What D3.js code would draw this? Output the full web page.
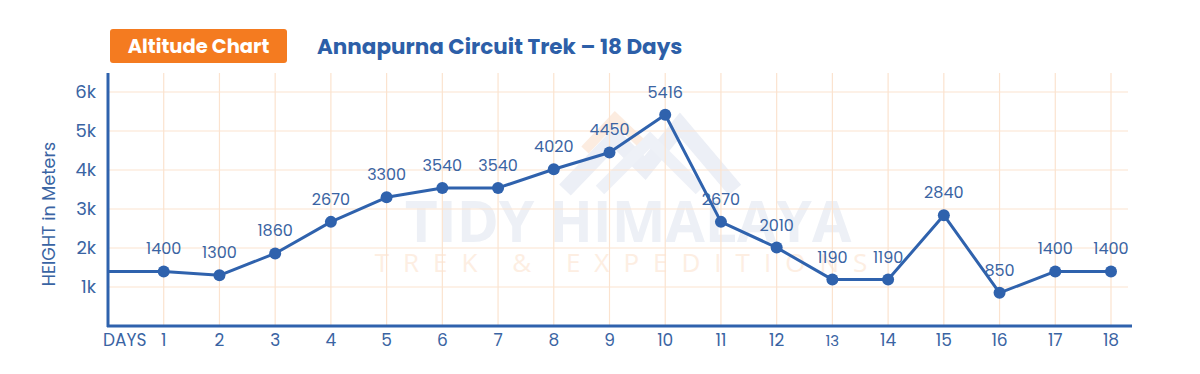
<!DOCTYPE html>
<html><head><meta charset="utf-8">
<script src="https://cdn.jsdelivr.net/npm/d3@7"></script>
<style>
html,body{margin:0;padding:0;background:#fff;}
svg{display:block;font-family:"Poppins","Inter","Open Sans",sans-serif;}
</style></head>
<body>
<svg id="chart" width="1200" height="374"></svg>
<script>
const days = [1,2,3,4,5,6,7,8,9,10,11,12,13,14,15,16,17,18];
const altitudes = [1400,1300,1860,2670,3300,3540,3540,4020,4450,5416,2670,2010,1190,1190,2840,850,1400,1400];
const yTicks = [1000,2000,3000,4000,5000,6000];
const yTickLabels = ["1k","2k","3k","4k","5k","6k"];
const badgeText = "Altitude Chart";
const titleText = "Annapurna Circuit Trek – 18 Days";
const yAxisTitle = "HEIGHT in Meters";
const xAxisTitle = "DAYS";

const svg = d3.select("#chart");
const blue = "#2f62ad";
const textBlue = "#3a64a3";
const gridColor = "#fbe3cf";

const x = d3.scaleLinear().domain([0,18]).range([108,1111]);
const y = d3.scaleLinear().domain([0,6000]).range([326,92]);

// watermark
const wm = svg.append("g");
wm.append("path")
  .attr("d","M565,190 L615,138 L645,168 L680,125 L735,190")
  .attr("fill","none").attr("stroke","#eceff6").attr("stroke-width",16).attr("stroke-linejoin","miter");
wm.append("path")
  .attr("d","M600,190 L650,140 L700,190")
  .attr("fill","none").attr("stroke","#eef1f7").attr("stroke-width",12);
wm.append("path")
  .attr("d","M585,150 L615,118 L640,142")
  .attr("fill","none").attr("stroke","#fcece0").attr("stroke-width",10);
wm.append("text").attr("x",628).attr("y",242).attr("text-anchor","middle")
  .attr("font-size",57).attr("font-weight",700).attr("fill","#edf0f6")
  .attr("font-family","'Open Sans',sans-serif").text("TIDY HIMALAYA");
wm.append("text").attr("x",628).attr("y",272).attr("text-anchor","middle")
  .attr("font-size",26).attr("letter-spacing",14).attr("fill","#fdeee2")
  .attr("font-family","'Open Sans',sans-serif").text("TREK & EXPEDITIONS");

// grid
svg.append("g").selectAll("line.h").data(yTicks).join("line")
  .attr("x1",108).attr("x2",1128).attr("y1",d=>y(d)).attr("y2",d=>y(d))
  .attr("stroke",gridColor).attr("stroke-width",1.2);
svg.append("g").selectAll("line.v").data(days).join("line")
  .attr("x1",d=>x(d)).attr("x2",d=>x(d)).attr("y1",73).attr("y2",326)
  .attr("stroke",gridColor).attr("stroke-width",1.2);

// axes lines
svg.append("line").attr("x1",108).attr("x2",108).attr("y1",73).attr("y2",327)
  .attr("stroke",blue).attr("stroke-width",3);
svg.append("line").attr("x1",107).attr("x2",1132).attr("y1",326).attr("y2",326)
  .attr("stroke",blue).attr("stroke-width",3);

// y tick labels
svg.append("g").selectAll("text").data(yTicks).join("text")
  .attr("x",96).attr("y",d=>y(d)+6).attr("text-anchor","end")
  .attr("font-size",18).attr("fill",textBlue)
  .text((d,i)=>yTickLabels[i]);

// x tick labels
svg.append("g").selectAll("text").data(days).join("text")
  .attr("x",d=>x(d)).attr("y",346).attr("text-anchor","middle")
  .attr("font-size",d=>d===13?15:17).attr("fill",textBlue)
  .text(d=>d);
svg.append("text").attr("x",103).attr("y",346).attr("font-size",17).attr("fill",textBlue).text(xAxisTitle);

// y axis title
svg.append("text").attr("transform","translate(55,214) rotate(-90)")
  .attr("text-anchor","middle").attr("font-size",17.5).attr("fill",textBlue).text(yAxisTitle);

// line
const pts = [[0,altitudes[0]]].concat(days.map((d,i)=>[d,altitudes[i]]));
svg.append("path").datum(pts)
  .attr("d",d3.line().x(d=>x(d[0])).y(d=>y(d[1])))
  .attr("fill","none").attr("stroke",blue).attr("stroke-width",3).attr("stroke-linejoin","round");
svg.append("g").selectAll("circle").data(days).join("circle")
  .attr("cx",d=>x(d)).attr("cy",(d,i)=>y(altitudes[i])).attr("r",6).attr("fill",blue);
svg.append("g").selectAll("text").data(days).join("text")
  .attr("x",d=>x(d)).attr("y",(d,i)=>y(altitudes[i])-17).attr("text-anchor","middle")
  .attr("font-size",16).attr("fill",textBlue)
  .text((d,i)=>altitudes[i]);

// badge
svg.append("rect").attr("x",110).attr("y",29).attr("width",177).attr("height",34).attr("rx",3)
  .attr("fill","#f47b20");
svg.append("text").attr("x",198.5).attr("y",53).attr("text-anchor","middle")
  .attr("font-size",19.5).attr("font-weight",700).attr("fill","#fff").text(badgeText);
svg.append("text").attr("x",317).attr("y",54)
  .attr("font-size",21.5).attr("font-weight",700).attr("fill","#2d5fa8").text(titleText);
</script>
</body></html>
